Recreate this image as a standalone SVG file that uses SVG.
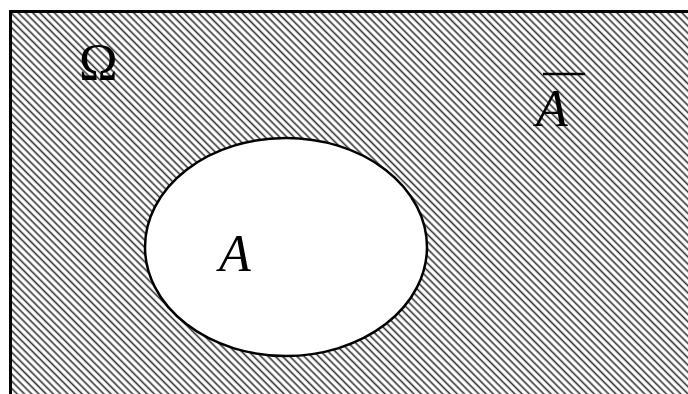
<svg xmlns="http://www.w3.org/2000/svg" width="688" height="394" viewBox="0 0 688 394">
  <style>
    .lbl { font-family: "Liberation Serif", "Times New Roman", serif; fill: #000; }
    .it { font-style: italic; }
  </style>
  <defs>
    <pattern id="hatch" patternUnits="userSpaceOnUse" width="5.1" height="5.1" patternTransform="rotate(45)">
      <rect x="0" y="0" width="5.1" height="5.1" fill="#fff"/>
      <line x1="0" y1="1.2" x2="5.1" y2="1.2" stroke="#333" stroke-width="1.6"/>
    </pattern>
  </defs>
  <rect width="688" height="394" fill="#fff"/>
  <g id="omega">
    <rect x="10.5" y="11.5" width="690" height="400" fill="url(#hatch)" stroke="#000" stroke-width="3"/>
    <text class="lbl" x="79" y="80" font-size="52">Ω</text>
  </g>
  <g id="A">
    <ellipse cx="286" cy="247" rx="141" ry="109" fill="#fff" stroke="#000" stroke-width="2.5"/>
    <text class="lbl it" x="219" y="271" font-size="52">A</text>
  </g>
  <g id="notA">
    <text class="lbl it" x="536" y="126" font-size="52">A</text>
    <line x1="543" y1="74" x2="585" y2="74" stroke="#000" stroke-width="2.5"/>
  </g>
  <g id="connectors"></g>
</svg>
